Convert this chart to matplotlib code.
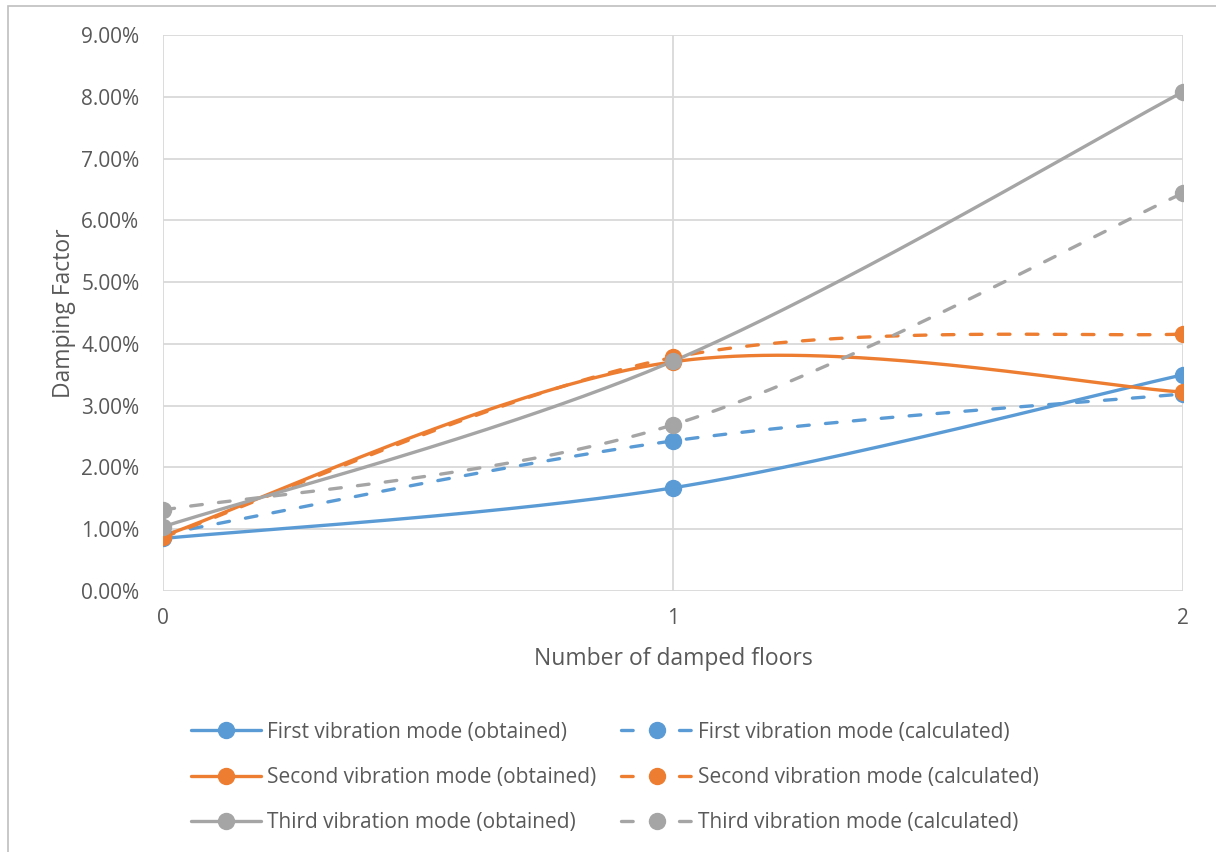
import matplotlib
matplotlib.use("Agg")

import matplotlib.pyplot as plt
import numpy as np
from matplotlib.lines import Line2D
from matplotlib.patches import Rectangle
from matplotlib.ticker import FuncFormatter

plt.rcParams["font.family"] = ["Open Sans", "DejaVu Sans"]

floors = [0, 1, 2]
first_obtained = [0.85, 1.67, 3.50]
first_calculated = [0.92, 2.43, 3.19]
second_obtained = [0.89, 3.71, 3.22]
second_calculated = [0.87, 3.78, 4.16]
third_obtained = [1.04, 3.72, 8.08]
third_calculated = [1.31, 2.69, 6.44]

labels = ["First vibration mode", "Second vibration mode", "Third vibration mode"]
colours = ["#5B9BD5", "#ED7D31", "#A5A5A5"]
TEXT = "#595959"
GRID = "#D9D9D9"
LW = 2.4
DASH = (0, (3.5, 4.9))


def smooth(xs, ys, n=80):
    """Bezier smoothing through every point, like a spreadsheet's smoothed line."""
    p = np.column_stack([xs, ys]).astype(float)
    out = []
    for i in range(len(p) - 1):
        p0 = p[i - 1] if i > 0 else p[i]
        p1, p2 = p[i], p[i + 1]
        p3 = p[i + 2] if i + 2 < len(p) else p[i + 1]
        c1 = p1 + (p2 - p0) / 6
        c2 = p2 - (p3 - p1) / 6
        t = np.linspace(0, 1, n)[:, None]
        seg = ((1 - t) ** 3 * p1 + 3 * (1 - t) ** 2 * t * c1
               + 3 * (1 - t) * t ** 2 * c2 + t ** 3 * p2)
        out.append(seg if i == 0 else seg[1:])
    return np.vstack(out)


fig = plt.figure(figsize=(12.16, 8.52), dpi=100)
fig.patches.append(Rectangle((8 / 1216, -0.01), 1.2, 1 - 6 / 852 + 0.01,
                             transform=fig.transFigure, fill=False,
                             edgecolor="#BFBFBF", lw=1.2))
ax = fig.add_axes([163 / 1216, 1 - 591 / 852, 1020 / 1216, 556 / 852])

series = [
    (first_obtained, first_calculated),
    (second_obtained, second_calculated),
    (third_obtained, third_calculated),
]
for (obt, calc), colour in zip(series, colours):
    for vals, ls in ((obt, "-"), (calc, DASH)):
        curve = smooth(floors, vals)
        ax.plot(curve[:, 0], curve[:, 1], color=colour, lw=LW, ls=ls,
                solid_capstyle="round", dash_capstyle="round", zorder=3)
        ax.plot(floors, vals, "o", color=colour, ms=11.5, zorder=4)

ax.set_xlim(0, 2)
ax.set_ylim(0, 9)
ax.set_xticks(floors)
ax.set_yticks(np.arange(0, 10, 1))
ax.yaxis.set_major_formatter(FuncFormatter(lambda v, _: f"{v:.2f}%"))
ax.grid(True, color=GRID, lw=1.3, zorder=0)
ax.tick_params(length=0, labelsize=15, colors=TEXT, pad=17)
ax.tick_params(axis="x", pad=12)
for s in ax.spines.values():
    s.set_visible(False)
ax.set_xlabel("Number of damped floors", fontsize=16.5, color=TEXT, labelpad=13)
ax.set_ylabel("Damping Factor", fontsize=16.5, color=TEXT, labelpad=4)

handles = []
names = []
for label, colour in zip(labels, colours):
    handles.append(Line2D([], [], color=colour, lw=LW, marker="o", ms=11.5,
                          solid_capstyle="round"))
    names.append(f"{label} (obtained)")
for label, colour in zip(labels, colours):
    handles.append(Line2D([], [], color=colour, lw=LW, ls=(0, (3.5, 5.2)), marker="o",
                          ms=11.5, dash_capstyle="round"))
    names.append(f"{label} (calculated)")

fig.legend(handles, names, loc="upper left", bbox_to_anchor=(172 / 1216, 1 - 703 / 852),
           ncol=2, frameon=False, fontsize=15, labelcolor=TEXT, handlelength=3.37,
           handletextpad=0.3, columnspacing=1.2, labelspacing=1.16)

fig.savefig("out.png", dpi=100, facecolor="white")
